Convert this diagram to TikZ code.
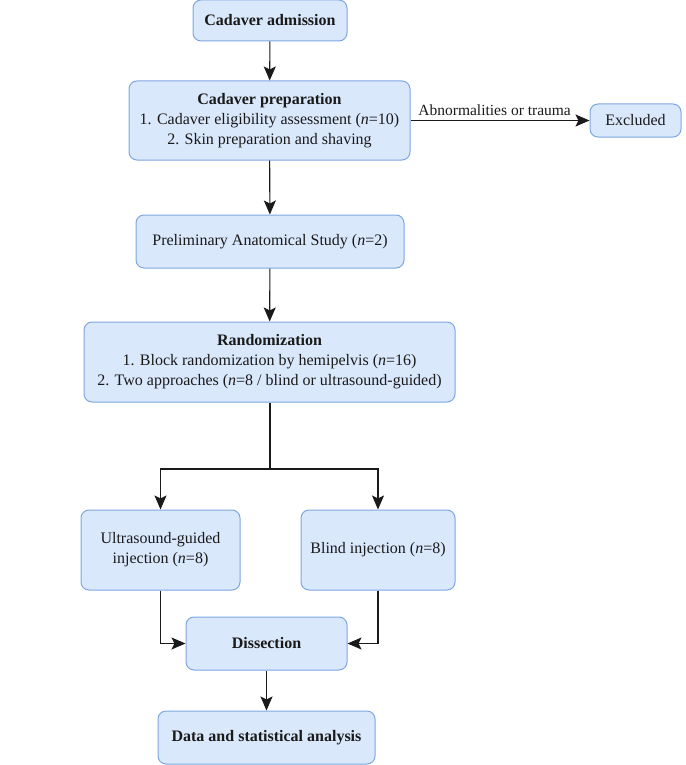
\documentclass[tikz,border=0pt]{standalone}
\usepackage{fontspec}
\setmainfont{Liberation Serif}
\usetikzlibrary{arrows.meta}
\definecolor{boxfill}{HTML}{DAE8FC}
\definecolor{boxdraw}{HTML}{7EA6E0}
\definecolor{inkc}{HTML}{1A1A1A}
\begin{document}
\begin{tikzpicture}[x=1pt,y=-1pt,
  box/.style={draw=boxdraw, fill=boxfill, line width=1pt, rounded corners=8pt, align=center, inner sep=0pt, text=inkc, font=\fontsize{16}{20}\selectfont},
  conn/.style={line width=1.1pt, draw=inkc, -{Stealth[length=14pt,width=12pt,inset=3pt]}},
  line/.style={line width=1.1pt, draw=inkc}]
\useasboundingbox (0,0) rectangle (685,765);
\node[box, minimum width=154pt, minimum height=41pt] (adm) at (270,20.5) {\textbf{Cadaver admission}};
\node[box, minimum width=281pt, minimum height=79pt] (prep) at (269.5,120.5) {\textbf{Cadaver preparation}\\1. Cadaver eligibility assessment (\textit{n}=10)\\2. Skin preparation and shaving};
\node[box, minimum width=91pt, minimum height=33pt] (exc) at (635.5,120.5) {Excluded};
\node[box, minimum width=268pt, minimum height=53pt] (pre) at (270,241.5) {Preliminary Anatomical Study (\textit{n}=2)};
\node[box, minimum width=371pt, minimum height=80pt] (rand) at (269.5,362) {\textbf{Randomization}\\1. Block randomization by hemipelvis (\textit{n}=16)\\2. Two approaches (\textit{n}=8 / blind or ultrasound-guided)};
\node[box, minimum width=159pt, minimum height=80pt] (us) at (160.5,550) {Ultrasound-guided\\injection (\textit{n}=8)};
\node[box, minimum width=154pt, minimum height=80pt] (bl) at (378,550) {Blind injection (\textit{n}=8)};
\node[box, minimum width=161pt, minimum height=53pt] (dis) at (266.5,643.5) {\textbf{Dissection}};
\node[box, minimum width=217pt, minimum height=53pt] (data) at (266.5,737.5) {\textbf{Data and statistical analysis}};
\coordinate (split) at (270,469);
\draw[conn] (adm) -- (prep);
\draw[conn] (prep) -- node[above, pos=0.47, text=inkc, font=\fontsize{15.5}{18}\selectfont, yshift=1pt] {Abnormalities or trauma} (exc);
\draw[conn] (prep) -- (pre);
\draw[conn] (pre) -- (rand);
\draw[line] (rand.south -| split) -- (split);
\draw[conn] (split) -| (us.north);
\draw[conn] (split) -| (bl.north);
\draw[conn] (us.south) |- (dis.west);
\draw[conn] (bl.south) |- (dis.east);
\draw[conn] (dis) -- (data);
\end{tikzpicture}
\end{document}
